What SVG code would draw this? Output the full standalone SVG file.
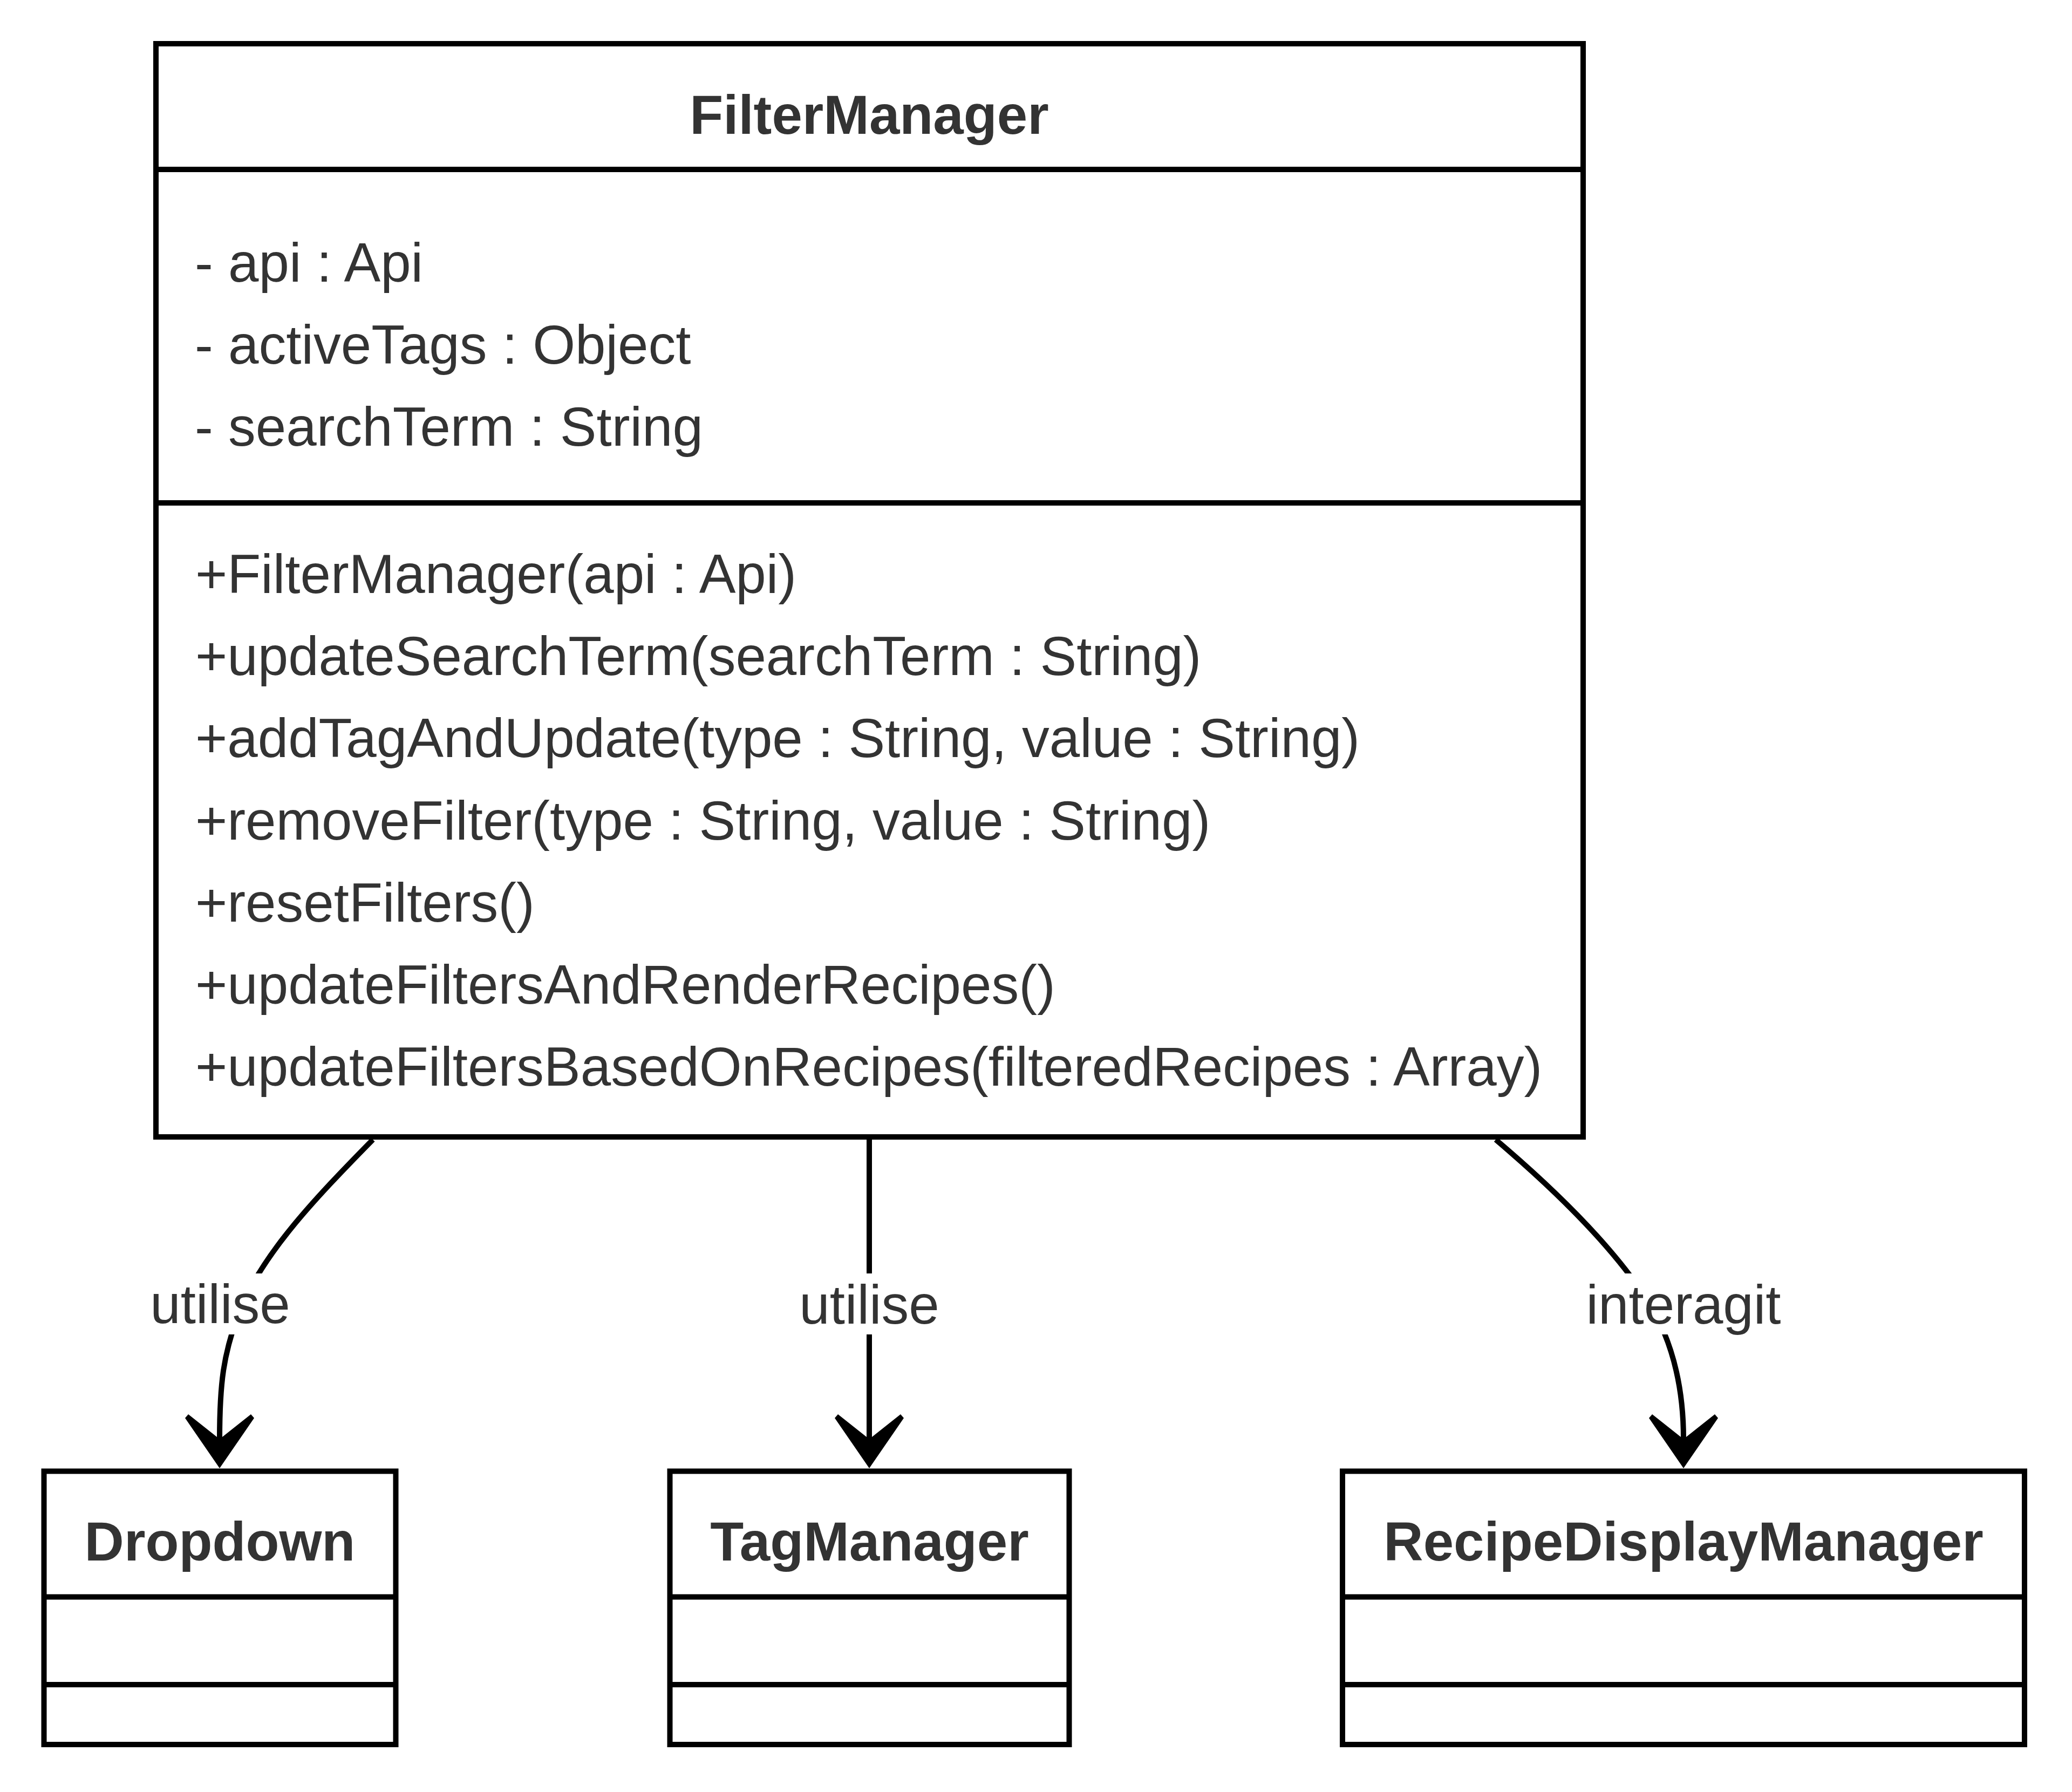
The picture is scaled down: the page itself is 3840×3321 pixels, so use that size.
<svg xmlns="http://www.w3.org/2000/svg" xmlns:xlink="http://www.w3.org/1999/xlink" width="3840" height="3321" viewBox="0 0 3840 3321">
<style>
.box{fill:#fff;stroke:#000;stroke-width:10}
.div{stroke:#000;stroke-width:10;fill:none}
.t{font-family:"Liberation Sans",Arial,sans-serif;font-size:101.5px;fill:#333}
.b{font-weight:bold;text-anchor:middle}
.edge{fill:none;stroke:#000;stroke-width:10}
.lbg{fill:#fff}
.lbl{text-anchor:middle}
</style>
<defs>
<path id="ah" d="M0,0 L-64,-93 L-58,-100 L0,-54 L58,-100 L64,-93 Z" fill="#000"/>
</defs>
<rect width="3840" height="3321" fill="#fff"/>
<g id="connectors">
<path class="edge" d="M691,2112 C580,2225 480,2330 440,2440 C415,2510 407,2560 407,2667"/>
<path class="edge" d="M1611,2112 L1611,2667"/>
<path class="edge" d="M2772,2112 C2870,2195 2970,2290 3040,2390 C3090,2460 3120,2550 3120,2667"/>
<use xlink:href="#ah" href="#ah" x="407" y="2721"/>
<use xlink:href="#ah" href="#ah" x="1611" y="2721"/>
<use xlink:href="#ah" href="#ah" x="3120" y="2721"/>
<rect class="lbg" x="280" y="2360" width="256" height="113"/>
<text class="t lbl" x="408" y="2452">utilise</text>
<rect class="lbg" x="1483" y="2360" width="256" height="113"/>
<text class="t lbl" x="1611" y="2453">utilise</text>
<rect class="lbg" x="2939" y="2360" width="362" height="113"/>
<text class="t lbl" x="3120" y="2453">interagit</text>
</g>
<g id="FilterManager">
<rect class="box" x="289" y="81" width="2645" height="2026"/>
<line class="div" x1="289" y1="314" x2="2934" y2="314"/>
<line class="div" x1="289" y1="932" x2="2934" y2="932"/>
<text class="t b" x="1611" y="248">FilterManager</text>
<text class="t" x="361" y="522">- api : Api</text>
<text class="t" x="361" y="674">- activeTags : Object</text>
<text class="t" x="361" y="826">- searchTerm : String</text>
<text class="t" x="362" y="1099">+FilterManager(api : Api)</text>
<text class="t" x="362" y="1251">+updateSearchTerm(searchTerm : String)</text>
<text class="t" x="362" y="1403">+addTagAndUpdate(type : String, value : String)</text>
<text class="t" x="362" y="1556">+removeFilter(type : String, value : String)</text>
<text class="t" x="362" y="1708">+resetFilters()</text>
<text class="t" x="362" y="1860">+updateFiltersAndRenderRecipes()</text>
<text class="t" x="362" y="2012">+updateFiltersBasedOnRecipes(filteredRecipes : Array)</text>
</g>
<g id="Dropdown">
<rect class="box" x="81.5" y="2726.5" width="652" height="506.5"/>
<line class="div" x1="81.5" y1="2959.5" x2="733.5" y2="2959.5"/>
<line class="div" x1="81.5" y1="3122" x2="733.5" y2="3122"/>
<text class="t b" x="407.5" y="2892">Dropdown</text>
</g>
<g id="TagManager">
<rect class="box" x="1241.5" y="2726.5" width="740" height="506.5"/>
<line class="div" x1="1241.5" y1="2959.5" x2="1981.5" y2="2959.5"/>
<line class="div" x1="1241.5" y1="3122" x2="1981.5" y2="3122"/>
<text class="t b" x="1611.5" y="2892">TagManager</text>
</g>
<g id="RecipeDisplayManager">
<rect class="box" x="2488" y="2726.5" width="1264" height="506.5"/>
<line class="div" x1="2488" y1="2959.5" x2="3752" y2="2959.5"/>
<line class="div" x1="2488" y1="3122" x2="3752" y2="3122"/>
<text class="t b" x="3120" y="2892">RecipeDisplayManager</text>
</g>
</svg>
